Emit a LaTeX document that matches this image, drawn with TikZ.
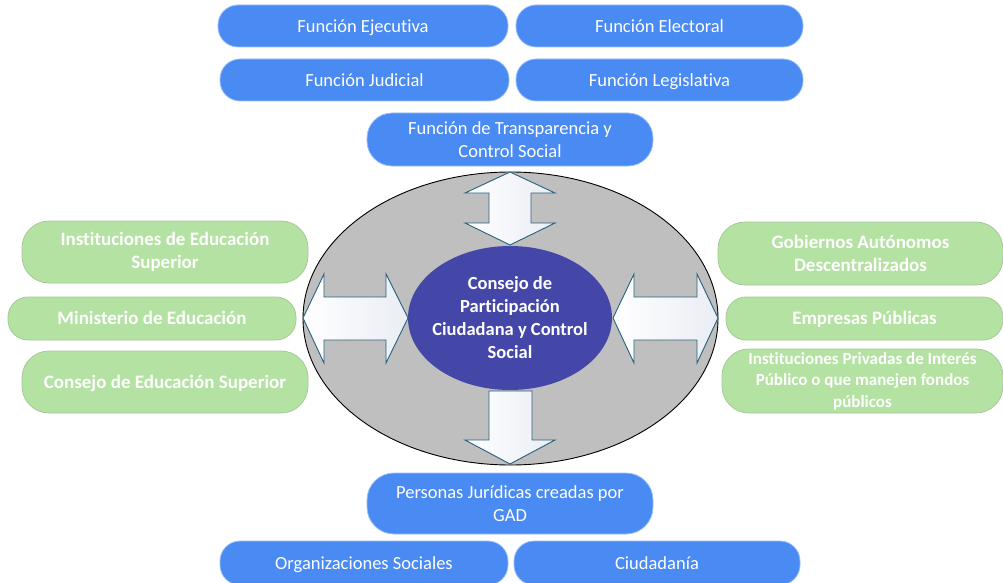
\documentclass[tikz,border=0pt]{standalone}
\usepackage{fontspec}
\setmainfont{Carlito}[Ligatures=NoCommon]
\usetikzlibrary{shapes.geometric,positioning}

\definecolor{funcblue}{RGB}{74,138,243}
\definecolor{entgreen}{RGB}{180,226,162}
\definecolor{cpcpurple}{RGB}{68,71,168}
\definecolor{ringgray}{RGB}{191,191,191}
\definecolor{arrowline}{RGB}{38,96,122}
\definecolor{arrowshade}{RGB}{234,237,245}

\begin{document}
\begin{tikzpicture}[
        x=1pt, y=-1pt,
        font=\fontsize{18.5}{23}\selectfont,
        % Block styles
        func/.style={
            rectangle,
            rounded corners=20pt,
            fill=funcblue,
            draw=funcblue!55!white,
            line width=0.8pt,
            text=white,
            minimum width=288pt,
            minimum height=42pt,
            inner sep=2pt,
            align=center
        },
        ent/.style={
            rectangle,
            rounded corners=20pt,
            fill=entgreen,
            draw=entgreen!75!gray,
            line width=0.8pt,
            text=white,
            minimum height=43pt,
            inner sep=2pt,
            align=center,
            font=\fontsize{19}{23}\selectfont\bfseries
        },
        tallent/.style={ent, rounded corners=27pt, minimum height=62pt},
        oneline/.style={text height=15pt, text depth=2.5pt},
        flowarrow/.style={
            draw=arrowline,
            line width=0.9pt,
            line join=miter,
            left color=white,
            right color=arrowshade
        }
    ]
    \useasboundingbox (0,0) rectangle (1003,583);

    % State functions
    \node[func, oneline, minimum width=290pt] (ejec) at (363,26) {Función Ejecutiva};
    \node[func, oneline, minimum width=287pt] (elect) at (659.5,26) {Función Electoral};
    \node[func, oneline, minimum width=289pt] (judic) at (364.5,80) {Función Judicial};
    \node[func, oneline, minimum width=287pt] (legis) at (659.5,80) {Función Legislativa};
    \node[func, minimum width=286pt, minimum height=53pt, rounded corners=25pt] (transp) at (510,139.5) {Función de Transparencia y\\Control Social};

    % Council
    \node[ellipse, fill=ringgray, draw=black, line width=0.9pt, minimum width=415pt, minimum height=293pt] (ring) at (510.5,318.5) {};
    \node[ellipse, fill=cpcpurple, minimum width=204pt, minimum height=144pt] (cpc) at (510,318) {};
    \node[text=white, align=center, font=\fontsize{18.5}{23}\selectfont\bfseries] (cpctext) at (cpc) {Consejo de\\Participación\\Ciudadana y Control\\Social};

    % Block arrows
    \path[flowarrow] (510,172) -- (555,193) -- (531,193) -- (531,223) -- (555,223) -- (510,245)
        -- (465,223) -- (489,223) -- (489,193) -- (465,193) -- cycle;
    \path[flowarrow] (303,318) -- (324,274) -- (324,297) -- (386,297) -- (386,274) -- (408,318)
        -- (386,363) -- (386,340) -- (324,340) -- (324,363) -- cycle;
    \path[flowarrow] (613,318) -- (634,274) -- (634,297) -- (697,297) -- (697,274) -- (718,318)
        -- (697,363) -- (697,340) -- (634,340) -- (634,363) -- cycle;
    \path[flowarrow] (489,391) -- (532,391) -- (532,440) -- (555,440) -- (510,464)
        -- (465,440) -- (489,440) -- cycle;

    % Education entities
    \node[tallent, minimum width=286pt] (ies) at (165,252) {Instituciones de Educación\\Superior};
    \node[ent, oneline, minimum width=288pt] (mineduc) at (152,318.5) {Ministerio de Educación};
    \node[tallent, oneline, minimum width=286pt] (ces) at (165,382) {Consejo de Educación Superior};

    % Public entities
    \node[tallent, minimum width=285pt, minimum height=63pt] (gad) at (860.5,253.5) {Gobiernos Autónomos\\Descentralizados};
    \node[ent, oneline, minimum width=277pt] (empub) at (864.5,318.5) {Empresas Públicas};
    \node[tallent, minimum width=281pt, minimum height=64pt, font=\fontsize{17}{21.5}\selectfont\bfseries] (privadas) at (862.5,381) {Instituciones Privadas de Interés\\Público o que manejen fondos\\públicos};

    % Citizens
    \node[func, minimum width=286pt, minimum height=61pt, rounded corners=27pt] (personas) at (510,503.5) {Personas Jurídicas creadas por\\GAD};
    \node[func, oneline, minimum height=44pt] (orgsoc) at (364,563) {Organizaciones Sociales};
    \node[func, oneline, minimum width=286pt, minimum height=44pt] (ciudad) at (657,563) {Ciudadanía};

\end{tikzpicture}
\end{document}
